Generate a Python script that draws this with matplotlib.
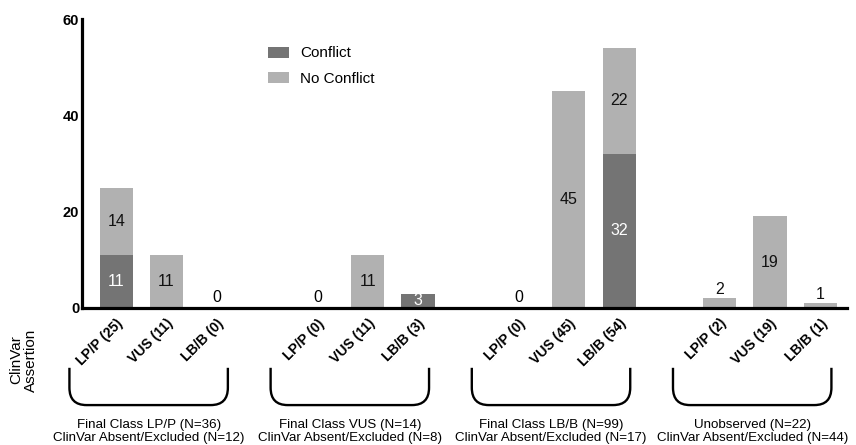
import numpy as np
import matplotlib.pyplot as plt
from matplotlib.path import Path
from matplotlib.patches import PathPatch
import matplotlib.transforms as mtransforms

plt.rcParams['font.family'] = ['Liberation Sans', 'DejaVu Sans']

# data
bar_labels = ['LP/P (25)', 'VUS (11)', 'LB/B (0)',
              'LP/P (0)', 'VUS (11)', 'LB/B (3)',
              'LP/P (0)', 'VUS (45)', 'LB/B (54)',
              'LP/P (2)', 'VUS (19)', 'LB/B (1)']
conflict = [11, 0, 0, 0, 0, 3, 0, 0, 32, 0, 0, 0]
no_conflict = [14, 11, 0, 0, 11, 0, 0, 45, 22, 2, 19, 1]
group_titles = ['Final Class LP/P (N=36)\nClinVar Absent/Excluded (N=12)',
                'Final Class VUS (N=14)\nClinVar Absent/Excluded (N=8)',
                'Final Class LB/B (N=99)\nClinVar Absent/Excluded (N=17)',
                'Unobserved (N=22)\nClinVar Absent/Excluded (N=44)']

dark = '#747474'
light = '#b1b1b1'

# 3 bars per group, one empty slot between groups
pos = np.array([g * 4 + i for g in range(4) for i in range(3)], dtype=float)
conflict = np.array(conflict)
no_conflict = np.array(no_conflict)
total = conflict + no_conflict

fig = plt.figure(figsize=(8.56, 4.45), dpi=100)
ax = fig.add_axes([0.0958, 0.3079, 0.8937, 0.6494])

b1 = ax.bar(pos, conflict, width=0.66, color=dark, label='Conflict')
b2 = ax.bar(pos, no_conflict, width=0.66, bottom=conflict, color=light,
            label='No Conflict')

ax.set_xlim(-0.68, 14.53)
ax.set_ylim(0, 60)
ax.set_yticks([0, 20, 40, 60])
ax.tick_params(axis='y', length=0, pad=2, labelsize=10.5)
for t in ax.get_yticklabels():
    t.set_fontweight('bold')
for s in ['top', 'right']:
    ax.spines[s].set_visible(False)
for s in ['left', 'bottom']:
    ax.spines[s].set_linewidth(2.3)

ax.set_xticks(pos)
ax.set_xticklabels(bar_labels, rotation=45, ha='right', va='top',
                   rotation_mode='anchor', fontweight='bold', fontsize=10)
ax.tick_params(axis='x', length=0, pad=6)

# value labels
for x, c, n, t in zip(pos, conflict, no_conflict, total):
    if t == 0:
        ax.text(x, 0.6, '0', ha='center', va='bottom', fontsize=11.5)
        continue
    if c >= 3:
        ax.text(x, c / 2, str(c), ha='center', va='center', fontsize=11.5,
                color='white')
    if n >= 3:
        ax.text(x, c + n / 2, str(n), ha='center', va='center',
                fontsize=11.5, color='#111111')
    elif n > 0:
        ax.text(x, t + 0.3, str(n), ha='center', va='bottom', fontsize=11.5,
                color='#111111')

ax.legend(handles=[b1, b2], loc='upper left', bbox_to_anchor=(0.243, 0.905),
          frameon=False, fontsize=11, handlelength=1.37, handleheight=0.72,
          handletextpad=0.72, labelspacing=0.75, borderpad=0,
          borderaxespad=0)

# brackets under each group
trans = mtransforms.blended_transform_factory(ax.transData, ax.transAxes)
top, bot = -0.207, -0.336
rx, ry = 0.34, 0.06
for g in range(4):
    left = pos[g * 3] - 0.93
    right = pos[g * 3 + 2] + 0.22
    verts = [(left, top), (left, bot + ry), (left, bot), (left + rx, bot),
             (right - rx, bot), (right, bot), (right, bot + ry), (right, top)]
    codes = [Path.MOVETO, Path.LINETO, Path.CURVE3, Path.CURVE3,
             Path.LINETO, Path.CURVE3, Path.CURVE3, Path.LINETO]
    ax.add_patch(PathPatch(Path(verts, codes), fill=False, lw=1.7,
                           edgecolor='black', transform=trans, clip_on=False))
    ax.text((left + right) / 2, -0.383, group_titles[g], transform=trans,
            ha='center', va='top', fontsize=9.6, linespacing=1.12)

fig.text(0.0275, 1 - 360 / 445, 'ClinVar\nAssertion', rotation=90,
         ha='center', va='center', fontsize=11, linespacing=1.0)

fig.savefig('out.png', dpi=100)
